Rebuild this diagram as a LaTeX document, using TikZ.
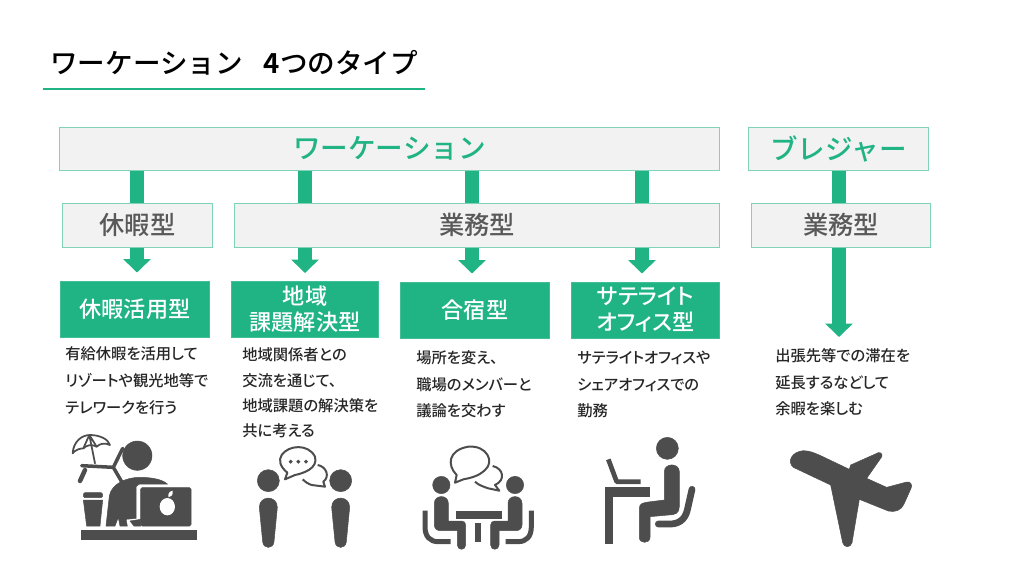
\documentclass[tikz,border=0pt]{standalone}
\usepackage{fontspec}
\setmainfont{Noto Sans CJK JP Medium}
\newfontfamily\tightfont[RawFeature=+palt]{Noto Sans CJK JP Medium}
\newfontfamily\heavyfont{Noto Sans CJK JP Bold}
\usetikzlibrary{arrows.meta}
\usepackage{xcolor}
\definecolor{leaf}{HTML}{20B384}
\definecolor{paleleaf}{HTML}{7FD4B8}
\definecolor{mist}{HTML}{F2F2F2}
\definecolor{slate}{HTML}{595959}
\definecolor{iconink}{HTML}{4D4D4D}

\begin{document}
\begin{tikzpicture}[
    x=0.02cm, y=-0.02cm,
    headbox/.style={rectangle, draw=paleleaf, fill=mist, line width=0.02cm,
      minimum height=0.86cm, inner sep=0, text=leaf,
      font=\fontsize{15.7}{18}\selectfont},
    typebox/.style={rectangle, draw=paleleaf, fill=mist, line width=0.02cm,
      minimum height=0.88cm, inner sep=0, text=slate,
      font=\fontsize{14.4}{17}\selectfont},
    greenbox/.style={rectangle, draw=leaf!85, fill=leaf, line width=0.02cm,
      minimum height=1.12cm, inner sep=0, text=white, align=center,
      font=\tightfont\fontsize{12.6}{14.8}\selectfont},
    desc/.style={inner sep=0, align=left, text=black!85},
    bar/.style={draw=leaf, line width=0.28cm},
    arrow/.style={-{Triangle[width=0.54cm, length=0.27cm]}, draw=leaf, line width=0.28cm},
    icon/.style={fill=iconink, draw=iconink, line width=0.01cm},
    stroke/.style={draw=iconink, line cap=round, line join=round},
    bubble/.style={draw=iconink, line width=0.04cm, line join=round},
  ]
  \useasboundingbox (0,0) rectangle (1024,576);

  % heading
  \node[anchor=west, inner sep=0, font=\fontsize{15.7}{18}\selectfont] (title) at (50,63)
    {ワーケーション\hspace{0.42cm}{\heavyfont 4}つのタイプ};
  \coordinate (ruleA) at (43,89);
  \coordinate (ruleB) at (425,89);
  \draw[leaf, line width=0.055cm] (ruleA) -- (ruleB);

  % boxes
  \node[headbox, minimum width=13.22cm] (work) at (389.5,148.5) {ワーケーション};
  \node[headbox, minimum width=3.62cm] (bleis) at (838.5,148.5) {ブレジャー};
  \node[typebox, minimum width=3.02cm] (rest) at (137.5,225) {休暇型};
  \node[typebox, minimum width=9.72cm] (task) at (477,225) {業務型};
  \node[typebox, minimum width=3.6cm] (taskb) at (841,225) {業務型};
  \node[greenbox, minimum width=3.0cm] (vac) at (135,309) {休暇活用型};
  \node[greenbox, minimum width=2.96cm] (region) at (305,309.5) {地域\\課題解決型};
  \node[greenbox, minimum width=3.0cm] (camp) at (475,310) {合宿型};
  \node[greenbox, minimum width=2.98cm] (sat) at (645.5,310) {サテライト\\オフィス型};

  % connectors
  \coordinate (c1) at (137,0);
  \coordinate (c2) at (305,0);
  \coordinate (c3) at (472,0);
  \coordinate (c4) at (642,0);
  \coordinate (c5) at (839,0);
  \coordinate (planeTop) at (839,337);
  \draw[bar] (work.south -| c1) -- (rest.north -| c1);
  \draw[bar] (work.south -| c2) -- (task.north -| c2);
  \draw[bar] (work.south -| c3) -- (task.north -| c3);
  \draw[bar] (work.south -| c4) -- (task.north -| c4);
  \draw[bar] (bleis.south -| c5) -- (taskb.north -| c5);
  \draw[arrow, shorten >=0.16cm] (rest.south -| c1) -- (vac.north -| c1);
  \draw[arrow, shorten >=0.16cm] (task.south -| c2) -- (region.north -| c2);
  \draw[arrow, shorten >=0.16cm] (task.south -| c3) -- (camp.north -| c3);
  \draw[arrow, shorten >=0.16cm] (task.south -| c4) -- (sat.north -| c4);
  \draw[arrow] (taskb.south -| c5) -- (planeTop);

  % descriptions
  \node[desc, anchor=west, font=\tightfont\fontsize{8.7}{15.4}\selectfont] (d1) at (65,381)
    {有給休暇を活用して\\リゾートや観光地等で\\テレワークを行う};
  \node[desc, anchor=west, font=\tightfont\fontsize{8.7}{14.4}\selectfont] (d2) at (242,393)
    {地域関係者との\\交流を通じて、\\地域課題の解決策を\\共に考える};
  \node[desc, anchor=west, font=\tightfont\fontsize{8.7}{15.1}\selectfont] (d3) at (416,384.5)
    {場所を変え、\\職場のメンバーと\\議論を交わす};
  \node[desc, anchor=west, font=\tightfont\fontsize{8.7}{15.1}\selectfont] (d4) at (577,384.5)
    {サテライトオフィスや\\シェアオフィスでの\\勤務};
  \node[desc, anchor=west, font=\tightfont\fontsize{8.7}{15.1}\selectfont] (d5) at (775,382.5)
    {出張先等での滞在を\\延長するなどして\\余暇を楽しむ};

  % holiday icon
  \begin{scope}[shift={(50,420)}, scale=1/3]
    \fill[icon] (262,107) circle[radius=44];
    \fill[icon] (95,332) rectangle (440,358);
    \fill[icon] (168,318) -- (178,228) .. controls (185,190) and (230,172) .. (270,172)
      .. controls (310,172) and (340,180) .. (352,192) -- (268,192) -- (258,200) -- (258,295)
      -- (228,298) -- (232,318) -- (210,318) -- (205,292) -- (195,318) -- cycle;
    \fill[icon, rounded corners=0.03cm] (272,203) rectangle (423,318);
    \fill[icon] (240,303) -- (272,298) -- (272,318) -- (252,318) -- cycle;
    \fill[white] (352,260) ellipse[x radius=23, y radius=26];
    \fill[white] (356,232) .. controls (352,222) and (358,214) .. (368,212)
      .. controls (370,224) and (365,230) .. (356,232) -- cycle;
    \fill[iconink] (381,246) circle[radius=9];
    \fill[icon, rounded corners=0.03cm] (100,218) rectangle (158,233);
    \fill[icon] (100,240) -- (158,240) -- (150,318) -- (110,318) -- cycle;
    \draw[stroke, line width=0.035cm] (68,100) .. controls (70,65) and (95,45) .. (120,45)
      .. controls (150,45) and (175,58) .. (180,75) .. controls (165,68) and (150,70) .. (140,80)
      .. controls (125,72) and (110,75) .. (100,85) .. controls (90,85) and (75,90) .. (68,100);
    \draw[stroke, line width=0.035cm] (118,45) -- (100,85) (118,45) -- (140,80) (118,45) -- (135,130);
    \draw[stroke, line width=0.07cm] (95,137) -- (190,142) -- (218,85) (190,142) -- (215,185);
    \draw[stroke, line width=0.09cm] (105,150) -- (90,183);
  \end{scope}

  % talking pair icon
  \begin{scope}[shift={(50,420)}, scale=1/3]
    \foreach \dx in {0,217} {
      \fill[icon] (655+\dx,182) circle[radius=33];
      \fill[icon] (628+\dx,262) .. controls (628+\dx,225) and (682+\dx,225) .. (682+\dx,262)
        -- (672+\dx,365) .. controls (670+\dx,388) and (640+\dx,388) .. (638+\dx,365) -- cycle;
    }
    \draw[bubble] (712,158) .. controls (690,140) and (685,120) .. (695,105)
      .. controls (715,75) and (775,70) .. (795,110) .. controls (805,145) and (760,160) .. (735,165)
      -- (705,178) -- cycle;
    \draw[bubble] (803,135) .. controls (830,140) and (840,170) .. (820,185) -- (825,200)
      -- (785,195) .. controls (775,192) and (765,185) .. (758,178);
    \fill[icon] (722,125) circle[radius=5] (745,125) circle[radius=5] (768,125) circle[radius=5];
  \end{scope}

  % meeting icon
  \begin{scope}[shift={(400,420)}, scale=1/3]
    \foreach \sx/\ox in {1/0,-1/469} {
      \begin{scope}[shift={(\ox,0)}, xscale=\sx]
        \fill[icon] (124,195) circle[radius=26];
        \fill[icon] (103,250) .. controls (103,223) and (145,223) .. (145,250) -- (145,303)
          -- (185,303) .. controls (192,303) and (197,308) .. (197,315) -- (197,375)
          .. controls (197,392) and (172,392) .. (172,375) -- (172,332) -- (122,332)
          .. controls (110,332) and (103,325) .. (103,315) -- cycle;
        \draw[stroke, line width=0.1cm, line cap=butt] (75,272) -- (75,320)
          .. controls (75,350) and (90,365) .. (115,365) -- (152,365);
      \end{scope}
    }
    \fill[icon] (168,275) rectangle (303,295);
    \fill[icon] (226,310) rectangle (241,365);
    \draw[bubble] (170,165) .. controls (140,135) and (145,90) .. (205,80)
      .. controls (260,75) and (285,125) .. (255,150) .. controls (235,170) and (205,175) .. (190,178)
      -- (165,188) -- cycle;
    \draw[bubble] (278,138) .. controls (310,145) and (318,180) .. (285,195) -- (298,212)
      -- (265,205) .. controls (250,200) and (235,195) .. (225,185);

  % desk icon
    \fill[icon] (802,85) circle[radius=33];
    \fill[icon] (793,155) .. controls (793,128) and (838,128) .. (838,155) -- (838,260)
      .. controls (838,280) and (825,285) .. (805,285) -- (750,290) -- (750,352)
      .. controls (750,372) and (718,372) .. (718,352) -- (718,265)
      .. controls (718,250) and (730,248) .. (745,246) -- (793,240) -- cycle;
    \draw[stroke, line width=0.135cm] (876,208) -- (862,270) .. controls (855,300) and (835,312) .. (810,312) -- (775,312);
    \fill[icon] (615,203) -- (748,203) -- (748,228) -- (638,228) -- (638,370) -- (615,370) -- cycle;
    \draw[stroke, line width=0.095cm, line cap=butt] (625,118) -- (650,185) -- (722,185);
  \end{scope}

  % plane icon
  \begin{scope}[shift={(760,430)}, scale=1/3]
    \fill[icon] (100,112) .. controls (80,95) and (95,65) .. (130,62)
      .. controls (150,62) and (165,70) .. (180,76) -- (268,118) -- (272,105) -- (355,68)
      .. controls (365,65) and (370,78) .. (362,85) -- (320,145) -- (380,172) -- (440,156)
      .. controls (452,154) and (458,165) .. (453,175) -- (432,222) .. controls (425,240) and (405,248) .. (385,243)
      -- (298,208) -- (276,338) .. controls (272,354) and (252,354) .. (248,338) -- (212,165) -- cycle;
  \end{scope}
\end{tikzpicture}
\end{document}
